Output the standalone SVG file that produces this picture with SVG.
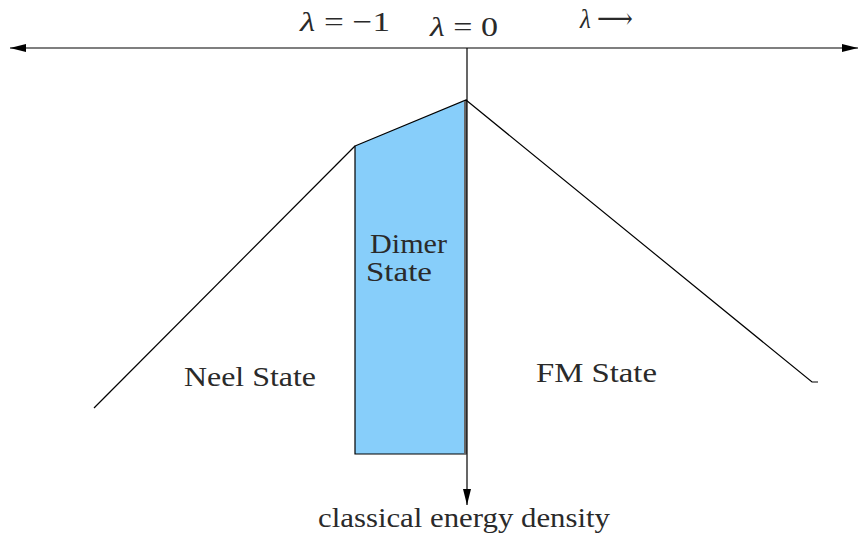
<svg xmlns="http://www.w3.org/2000/svg" width="858" height="536" viewBox="0 0 858 536">
<style>
.t{font-family:"Liberation Serif","DejaVu Serif",serif;font-size:28px;fill:#2a2a2a}
.m{font-family:"Liberation Serif","DejaVu Serif",serif;font-size:28px;fill:#2a2a2a;font-style:italic}
.ln{stroke:#000;stroke-width:1.2;fill:none}
</style>
<defs>
<marker id="ah" viewBox="0 0 16 8" refX="16" refY="4" markerWidth="16" markerHeight="8" markerUnits="userSpaceOnUse" orient="auto-start-reverse">
<path d="M0,0 L16,4 L0,8 Z" fill="#000"/>
</marker>
</defs>
<g id="dimer-region">
<polygon points="355,146 466,100 466,454 355,454" fill="#87CEFA" stroke="#000" stroke-width="1.2"/>
<line x1="465.5" y1="101" x2="465.5" y2="454" stroke="#666" stroke-width="3"/>
</g>
<g id="connectors">
<line class="ln" x1="10" y1="48" x2="858" y2="48" marker-start="url(#ah)" marker-end="url(#ah)"/>
<line class="ln" x1="467" y1="48" x2="467" y2="505" marker-end="url(#ah)"/>
<line class="ln" x1="94" y1="408" x2="355" y2="146"/>
<polyline class="ln" points="466,100 812,382 818,382"/>
</g>
<g id="labels">
<text class="m" x="300" y="31" textLength="90" lengthAdjust="spacingAndGlyphs">λ<tspan style="font-style:normal"> = −1</tspan></text>
<text class="m" x="430" y="36" textLength="68" lengthAdjust="spacingAndGlyphs">λ<tspan style="font-style:normal"> = 0</tspan></text>
<text class="m" x="580" y="28" textLength="53" lengthAdjust="spacingAndGlyphs">λ<tspan style="font-style:normal"> ⟶</tspan></text>
</g>
<g id="dimer-label"><text class="t" x="370" y="253" textLength="77" lengthAdjust="spacingAndGlyphs">Dimer</text>
<text class="t" x="366" y="281" textLength="66" lengthAdjust="spacingAndGlyphs">State</text></g>
<g id="neel-label"><text class="t" x="184" y="386" textLength="132" lengthAdjust="spacingAndGlyphs">Neel State</text></g>
<g id="fm-label"><text class="t" x="536" y="382" textLength="121" lengthAdjust="spacingAndGlyphs">FM State</text></g>
<g id="axis-label"><text class="t" x="318" y="527" textLength="292" lengthAdjust="spacingAndGlyphs">classical energy density</text></g>
</svg>
